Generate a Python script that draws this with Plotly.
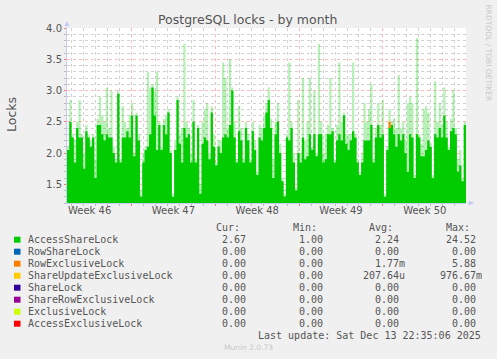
import plotly.graph_objects as go
import pandas as pd

# ---------------- data ----------------
start_time = "2025-11-10 14:35:06"
end_time = "2025-12-13 22:35:06"

# AccessShareLock, solid (averaged) level per sample
access_share_base = [
    2.05, 2.5, 2.25, 1.85, 2.4, 2.25, 2.25, 1.75, 2.35, 2.25, 2.1, 2.25, 1.6, 2.45, 2.45, 2.3, 2.2, 2.3, 2.25, 2.25, 2.0, 1.85,
    2.95, 1.85, 2.25, 2.25, 2.35, 2.25, 2.6, 1.95, 2.6, 2.2, 1.3, 1.85, 2.05, 2.1, 2.3, 3.05, 2.6, 2.05, 2.45, 2.05, 2.45, 2.3,
    2.65, 2.0, 1.3, 2.05, 2.85, 2.15, 1.85, 2.4, 2.25, 2.3, 1.85, 2.5, 1.85, 2.4, 1.35, 2.15, 2.25, 2.2, 1.9, 2.65, 2.1, 1.8,
    2.1, 2.0, 2.25, 2.3, 2.25, 2.45, 3.0, 2.25, 1.85, 2.35, 2.2, 1.85, 2.4, 2.2, 1.85, 2.35, 2.05, 1.65, 2.25, 2.2, 2.4, 2.65,
    2.85, 2.4, 1.6, 2.3, 2.5, 2.0, 1.55, 1.3, 2.25, 2.2, 2.4, 1.85, 1.4, 2.0, 1.85, 2.25, 1.9, 1.95, 2.3, 2.05, 2.3, 1.95,
    2.3, 2.3, 1.85, 1.9, 2.3, 2.3, 2.35, 1.85, 2.2, 2.3, 2.2, 2.6, 2.15, 2.05, 2.2, 2.35, 2.25, 1.85, 1.65, 1.85, 2.2, 2.2,
    2.2, 2.45, 1.85, 2.25, 2.45, 2.25, 2.3, 1.3, 2.05, 2.4, 2.45, 2.3, 2.1, 2.3, 2.2, 2.3, 2.0, 1.7, 2.3, 2.25, 1.6, 2.3,
    2.25, 1.95, 1.95, 2.05, 2.2, 2.1, 1.6, 2.3, 2.25, 2.4, 2.25, 2.6, 2.25, 2.05, 2.35, 2.4, 2.3, 1.7, 1.8, 1.55, 2.45, 2.4,
]
# AccessShareLock, short spike maxima within each sample (drawn lighter)
access_share_peak = [
    2.1, 2.85, 2.3, 2.2, 2.5, 2.85, 2.3, 2.0, 2.45, 2.3, 2.2, 2.3, 1.9, 2.55, 2.9, 2.6, 2.5, 3.05, 2.4, 3.0, 2.1, 1.9,
    3.0, 1.9, 2.75, 2.5, 2.4, 2.6, 2.8, 2.0, 2.65, 2.3, 1.4, 2.0, 2.1, 3.3, 3.05, 3.1, 3.0, 3.3, 2.5, 2.1, 2.55, 2.6,
    2.7, 2.05, 1.35, 2.2, 2.9, 2.3, 2.4, 3.75, 2.5, 2.4, 2.0, 2.85, 1.9, 2.45, 1.5, 2.5, 2.7, 2.8, 2.0, 2.75, 2.3, 1.85,
    2.2, 2.2, 3.45, 3.2, 2.4, 3.5, 3.05, 2.5, 1.9, 2.75, 2.4, 1.9, 2.5, 2.3, 1.9, 2.5, 2.2, 1.7, 2.45, 2.4, 2.6, 2.8,
    3.05, 2.55, 1.9, 2.5, 2.8, 2.15, 1.6, 1.35, 2.3, 3.45, 2.5, 2.0, 1.45, 2.85, 2.0, 3.2, 2.2, 2.5, 3.2, 2.1, 3.0, 2.0,
    3.75, 2.5, 2.0, 2.3, 2.45, 3.2, 2.4, 1.9, 2.45, 3.45, 2.5, 2.65, 2.3, 2.3, 2.3, 3.45, 2.3, 1.9, 1.7, 2.0, 2.8, 2.5,
    2.7, 3.1, 1.9, 2.4, 2.8, 2.45, 2.85, 1.35, 2.1, 2.7, 2.5, 2.55, 2.4, 3.25, 2.4, 2.5, 2.2, 2.8, 2.9, 2.8, 1.65, 3.84,
    2.3, 2.15, 2.7, 2.75, 2.65, 2.15, 1.65, 3.15, 2.5, 2.8, 2.45, 3.05, 2.5, 2.1, 2.55, 3.0, 2.4, 1.9, 2.05, 1.6, 2.5, 2.45,
]
# RowExclusiveLock: only non-zero sample (index: value), stacked on AccessShareLock
row_exclusive_nonzero = {141: 0.1}

week_label_times = ["2025-11-12 12:00", "2025-11-19 12:00", "2025-11-26 12:00",
                    "2025-12-03 12:00", "2025-12-10 12:00"]
week_labels = ["Week 46", "Week 47", "Week 48", "Week 49", "Week 50"]

lock_names = ["AccessShareLock", "RowShareLock", "RowExclusiveLock", "ShareUpdateExclusiveLock",
              "ShareLock", "ShareRowExclusiveLock", "ExclusiveLock", "AccessExclusiveLock"]
lock_colors = ["#00CC00", "#0066B3", "#FF8000", "#FFCC00", "#330099", "#990099", "#CCFF00", "#FF0000"]
cur_vals = ["2.67", "0.00", "0.00", "0.00", "0.00", "0.00", "0.00", "0.00"]
min_vals = ["1.00", "0.00", "0.00", "0.00", "0.00", "0.00", "0.00", "0.00"]
avg_vals = ["2.24", "0.00", "1.77m", "207.64u", "0.00", "0.00", "0.00", "0.00"]
max_vals = ["24.52", "0.00", "5.88", "976.67m", "0.00", "0.00", "0.00", "0.00"]
col_headers = ["Cur:", "Min:", "Avg:", "Max:"]

title_text = "PostgreSQL locks - by month"
y_title = "Locks"
last_update = "Last update: Sat Dec 13 22:35:06 2025"
side_text = "RRDTOOL / TOBI OETIKER"
footer = "Munin 2.0.73"

# ---------------- geometry ----------------
W, H = 497, 359
ML, MR, MT, MB = 67, 31, 28, 156
PW = W - ML - MR
PH = H - MT - MB


def px(x):
    return (x - ML) / PW


def py(y):
    return (MT + PH - y) / PH


times = pd.date_range(start_time, end_time, periods=len(access_share_base))

TEXT = "#555555"
SANS = "DejaVu Sans"
MONO = "DejaVu Sans Mono"
AXIS = "#c5cbf5"
MAJOR_GRID = "rgba(255,0,0,0.28)"
MINOR_GRID = "rgba(0,0,0,0.18)"

fig = go.Figure()
fig.add_trace(go.Scatter(x=times, y=access_share_peak, mode="lines", line=dict(width=0, shape="hv"),
                         fill="tozeroy", fillcolor="rgba(0,204,0,0.28)", hoverinfo="skip", showlegend=False))
fig.add_trace(go.Scatter(x=times, y=access_share_base, mode="lines", line=dict(width=0, shape="hv"),
                         fill="tozeroy", fillcolor="#00CC00", name=lock_names[0], showlegend=False))
for idx, val in row_exclusive_nonzero.items():
    b = access_share_base[idx]
    fig.add_trace(go.Scatter(x=[times[idx], times[idx], times[idx + 1], times[idx + 1]],
                             y=[b, b + val, b + val, b], mode="lines", line=dict(width=0),
                             fill="toself", fillcolor="#FF8000", name=lock_names[2], showlegend=False))
# carrier for the week-label axis
fig.add_trace(go.Scatter(x=week_label_times, y=[None] * len(week_label_times), xaxis="x2",
                         mode="markers", marker=dict(opacity=0), hoverinfo="skip", showlegend=False))

fig.update_layout(
    width=W, height=H, margin=dict(l=ML, r=MR, t=MT, b=MB),
    paper_bgcolor="#F0F0F0", plot_bgcolor="white",
    showlegend=False,
    xaxis=dict(type="date", range=[start_time, end_time], tick0="2025-11-16", dtick=7 * 86400000,
               showticklabels=False, showgrid=True, gridcolor=MAJOR_GRID, griddash="dot",
               ticks="outside", ticklen=2, tickcolor="rgba(255,0,0,0.5)",
               showline=True, linecolor=AXIS, linewidth=1, zeroline=False,
               minor=dict(dtick=86400000, tick0="2025-11-16", showgrid=True, gridcolor=MINOR_GRID,
                          griddash="dot", ticks="outside", ticklen=2, tickcolor="#bbbbbb")),
    xaxis2=dict(type="date", overlaying="x", anchor="y", side="bottom", range=[start_time, end_time],
                tickmode="array", tickvals=week_label_times, ticktext=week_labels, showgrid=False,
                showline=False, zeroline=False, ticks="", tickfont=dict(family=SANS, size=10, color=TEXT)),
    yaxis=dict(range=[1.2, 4.0], tick0=0, dtick=0.5, tickformat=".1f",
               tickfont=dict(family=SANS, size=10, color=TEXT),
               showgrid=True, gridcolor=MAJOR_GRID, griddash="dot",
               ticks="outside", ticklen=2, tickcolor="rgba(255,0,0,0.5)",
               showline=True, linecolor=AXIS, linewidth=1, zeroline=False,
               minor=dict(dtick=0.1, showgrid=True, gridcolor=MINOR_GRID, griddash="dot",
                          ticks="outside", ticklen=2, tickcolor="#bbbbbb")),
)

ann = []
shapes = []
ann.append(dict(text=title_text, x=px(247.8), y=py(19), xref="paper", yref="paper", showarrow=False,
                xanchor="center", yanchor="middle", font=dict(family=SANS, size=12.5, color=TEXT)))
ann.append(dict(text=y_title, x=px(11), y=py(115), xref="paper", yref="paper", showarrow=False,
                textangle=-90, xanchor="center", yanchor="middle", font=dict(family=SANS, size=12.5, color=TEXT)))
ann.append(dict(text=side_text, x=px(488.5), y=py(53), xref="paper", yref="paper", showarrow=False,
                textangle=90, xanchor="center", yanchor="middle", font=dict(family=SANS, size=7.5, color="#c8c8c8")))
# axis arrows
ann.append(dict(text="", x=0, y=py(21), xref="paper", yref="paper", showarrow=True, ax=0, ay=8,
                arrowhead=2, arrowsize=1, arrowwidth=1, arrowcolor=AXIS))
ann.append(dict(text="", x=px(474), y=0, xref="paper", yref="paper", showarrow=True, ax=-8, ay=0,
                arrowhead=2, arrowsize=1, arrowwidth=1, arrowcolor=AXIS))

# legend table
header_right = [242, 319, 395, 472]
value_right = [254, 331, 407, 484]
row0_y, row_step = 239.7, 12
for hx, htxt in zip(header_right, col_headers):
    ann.append(dict(text=htxt, x=px(hx), y=py(227.3), xref="paper", yref="paper", showarrow=False,
                    xanchor="right", yanchor="middle", font=dict(family=MONO, size=10, color=TEXT)))
for i, name in enumerate(lock_names):
    yc = row0_y + i * row_step
    shapes.append(dict(type="rect", xref="paper", yref="paper", x0=px(14), x1=px(20.5),
                       y0=py(yc + 3), y1=py(yc - 3), fillcolor=lock_colors[i], line=dict(width=0)))
    ann.append(dict(text=name, x=px(26), y=py(yc), xref="paper", yref="paper", showarrow=False,
                    xanchor="left", yanchor="middle", font=dict(family=MONO, size=10, color=TEXT)))
    for rx, col in zip(value_right, [cur_vals, min_vals, avg_vals, max_vals]):
        v = col[i]
        t = v if v[-1] in "mu" else v + "\u00a0"
        ann.append(dict(text=t, x=px(rx), y=py(yc), xref="paper", yref="paper", showarrow=False,
                        xanchor="right", yanchor="middle", font=dict(family=MONO, size=10, color=TEXT)))
ann.append(dict(text=last_update, x=px(483), y=py(335.7), xref="paper", yref="paper", showarrow=False,
                xanchor="right", yanchor="middle", font=dict(family=MONO, size=10, color=TEXT)))
ann.append(dict(text=footer, x=px(248), y=py(347.7), xref="paper", yref="paper", showarrow=False,
                xanchor="center", yanchor="middle", font=dict(family=SANS, size=7.5, color="#c8c8c8")))

fig.update_layout(annotations=ann, shapes=shapes)
fig.write_html("out.html")
